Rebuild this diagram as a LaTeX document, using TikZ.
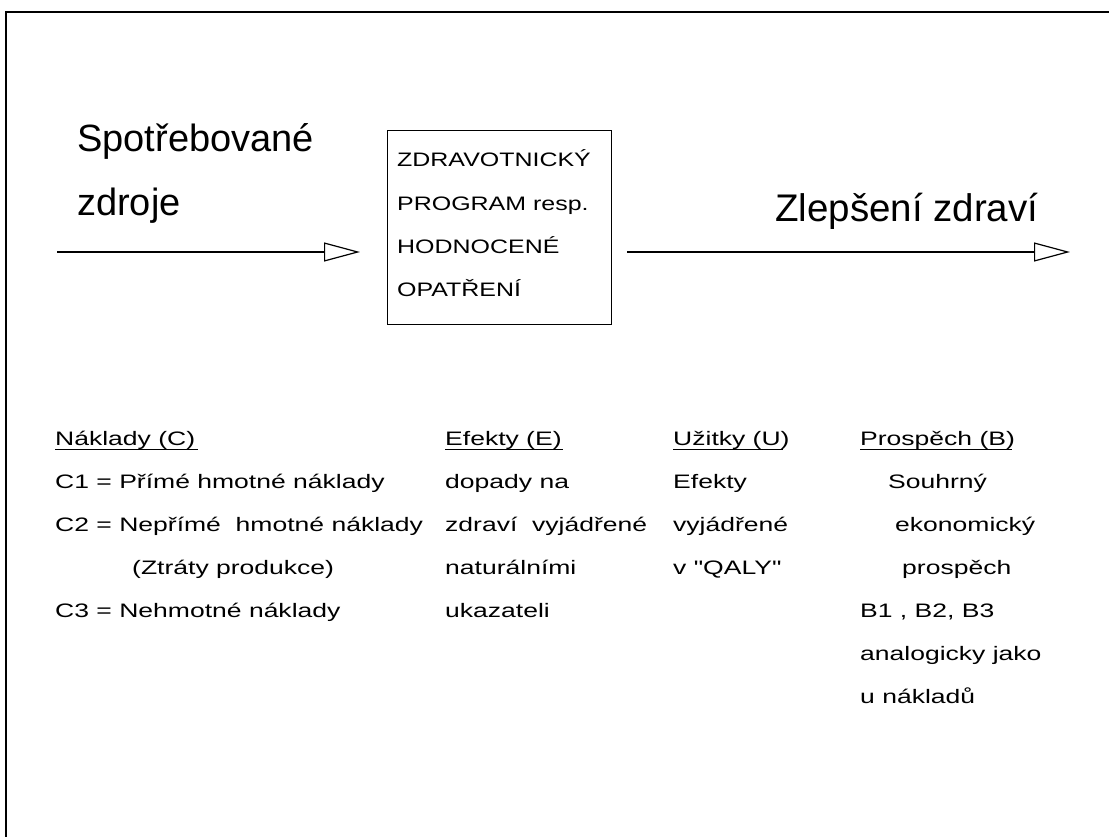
\documentclass[tikz,border=0pt]{standalone}
\usepackage{fontspec}
\setmainfont{Liberation Sans}
\newfontfamily\smf[FakeStretch=1.36]{Liberation Sans}
\newfontfamily\boxf[FakeStretch=1.28]{Liberation Sans}
\usetikzlibrary{arrows.meta}
\begin{document}
\begin{tikzpicture}[x=1pt,y=-1pt,
  big/.style={font=\fontsize{38}{44}\selectfont, anchor=base west, inner sep=0pt},
  sm/.style={font=\smf\fontsize{19.5}{24}\selectfont, anchor=base west, inner sep=0pt},
  boxtext/.style={font=\boxf\fontsize{19.5}{24}\selectfont, anchor=base west, inner sep=0pt},
  flow/.style={line width=1.2pt, -{Triangle[open,length=36pt,width=19pt,line width=1.2pt]}},
  frame/.style={line width=2pt},
  ulin/.style={line width=1pt}]
\useasboundingbox (0,0) rectangle (1109,837);
\fill[white] (0,0) rectangle (1109,837);
% frame (top and left edges)
\coordinate (f0) at (6,837);
\coordinate (f1) at (6,12);
\coordinate (f2) at (1109,12);
\draw[frame] (f0) -- (f1) -- (f2);

% input label and arrow
\node[big] (in1) at (77,152) {Spotřebované};
\node[big] (in2) at (77,216) {zdroje};
\coordinate (a1s) at (57,252);
\coordinate (a1e) at (360,252);
\draw[flow] (a1s) -- (a1e);

% program box
\node[draw, line width=1.3pt, minimum width=224pt, minimum height=194pt, anchor=north west, inner sep=0pt] (prog) at (387,130) {};
\foreach \t [count=\i from 0] in {ZDRAVOTNICKÝ, PROGRAM resp., HODNOCENÉ, OPATŘENÍ}
  \node[boxtext] (p\i) at (397,167+43.3*\i) {\t};

% output arrow and label
\coordinate (a2s) at (627,252);
\coordinate (a2e) at (1070,252);
\draw[flow] (a2s) -- (a2e);
\node[big, font=\fontsize{38.5}{44}\selectfont] (out) at (775,222) {Zlepšení zdraví};

% column 1: costs
\node[sm] (c0) at (55,445) {Náklady (C)};
\draw[ulin] ([yshift=-4pt]c0.base west) -- ++(143,0);
\node[sm] (c1) at (55,488) {C1 = Přímé hmotné náklady};
\node[sm] (c2) at (55,531) {C2 = Nepřímé\ \ hmotné náklady};
\node[sm] (c3) at (132,574) {(Ztráty produkce)};
\node[sm] (c4) at (55,617) {C3 = Nehmotné náklady};

% column 2: effects
\node[sm] (e0) at (445,445) {Efekty (E)};
\draw[ulin] ([yshift=-4pt]e0.base west) -- ++(118,0);
\node[sm] (e1) at (445,488) {dopady na};
\node[sm] (e2) at (445,531) {zdraví\ \ vyjádřené};
\node[sm] (e3) at (445,574) {naturálními};
\node[sm] (e4) at (445,617) {ukazateli};

% column 3: utilities
\node[sm] (u0) at (673,445) {Užitky (U)};
\draw[ulin] ([yshift=-4pt]u0.base west) -- ++(110,0);
\node[sm] (u1) at (673,488) {Efekty};
\node[sm] (u2) at (673,531) {vyjádřené};
\node[sm] (u3) at (673,574) {v "QALY"};

% column 4: benefits
\node[sm] (b0) at (860,445) {Prospěch (B)};
\draw[ulin] ([yshift=-4pt]b0.base west) -- ++(152,0);
\node[sm] (b1) at (888,488) {Souhrný};
\node[sm] (b2) at (895,531) {ekonomický};
\node[sm] (b3) at (902,574) {prospěch};
\node[sm] (b4) at (860,617) {B1 , B2, B3};
\node[sm] (b5) at (860,660) {analogicky jako};
\node[sm] (b6) at (860,703) {u nákladů};
\end{tikzpicture}
\end{document}
